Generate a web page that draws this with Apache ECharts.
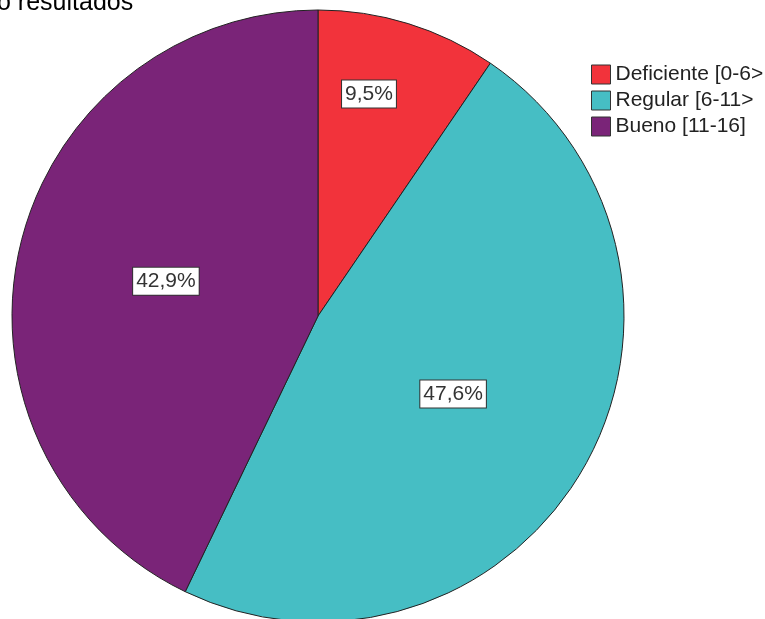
<!DOCTYPE html>
<html>
<head>
<meta charset="utf-8">
<script src="https://cdn.jsdelivr.net/npm/echarts@6/dist/echarts.min.js"></script>
<style>html,body{margin:0;padding:0;background:#fff}#c{width:765px;height:619px}</style>
</head>
<body>
<div id="c"></div>
<script>
const categories = ['Deficiente [0-6>', 'Regular [6-11>', 'Bueno [11-16]'];
const counts = [2, 10, 9];
const labels = ['9,5%', '47,6%', '42,9%'];
const colors = ['#F2333B', '#46BEC4', '#7A2478'];

const chart = echarts.init(document.getElementById('c'), null, {renderer: 'canvas'});
const labelStyle = {
  show: true, position: 'inside', fontFamily: 'Liberation Sans, Arial, sans-serif',
  fontSize: 21, color: '#333', backgroundColor: '#fff', borderColor: '#333',
  borderWidth: 1, padding: [3, 3]
};
const data = categories.map((c, i) => {
  const d = { name: c, value: counts[i], itemStyle: { color: colors[i] },
    label: Object.assign({}, labelStyle, { formatter: labels[i] }) };
  if (i === 0) d.label.offset = [5, -73];
  return d;
});
chart.setOption({
  animation: false,
  title: {
    text: 'o resultados', left: -8, top: -14,
    textStyle: { fontFamily: 'Liberation Sans, Arial, sans-serif', fontSize: 25, fontWeight: 'normal', color: '#000' }
  },
  legend: {
    orient: 'vertical', left: 586, top: 59, itemWidth: 19, itemHeight: 19, itemGap: 5,
    icon: 'rect', data: categories,
    itemStyle: { borderColor: '#333', borderWidth: 1 },
    textStyle: { fontFamily: 'Liberation Sans, Arial, sans-serif', fontSize: 21, color: '#222' }
  },
  series: [{
    type: 'pie', center: [318, 316], radius: [0, 306], startAngle: 90, clockwise: true,
    itemStyle: { borderColor: '#222', borderWidth: 1 },
    labelLine: { show: false },
    emphasis: { disabled: true },
    data: data
  }]
});
</script>
</body>
</html>
